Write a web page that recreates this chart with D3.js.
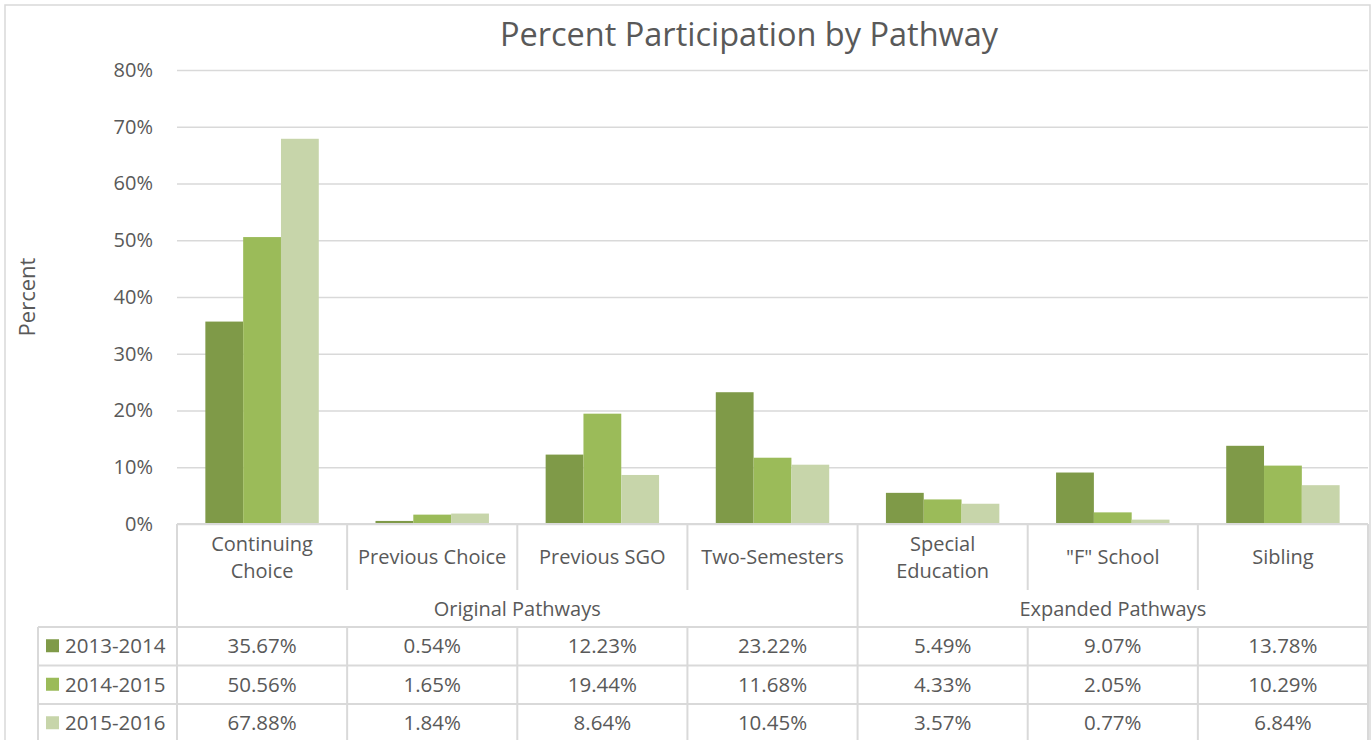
<!DOCTYPE html>
<html>
<head>
<meta charset="utf-8">
<script src="https://cdn.jsdelivr.net/npm/d3@7"></script>
<style>
  body { margin: 0; background: #fff; }
  text { font-family: "Open Sans", sans-serif; fill: #595959; }
</style>
</head>
<body>
<svg width="1372" height="740"></svg>
<script>
// chart data
var categories = ["Continuing Choice", "Previous Choice", "Previous SGO", "Two-Semesters",
                  "Special Education", "\"F\" School", "Sibling"];
var categoryLabels = [["Continuing", "Choice"], ["Previous Choice"], ["Previous SGO"], ["Two-Semesters"],
                      ["Special", "Education"], ["\"F\" School"], ["Sibling"]];
var groupNames = ["Original Pathways", "Expanded Pathways"];
var groupSizes = [4, 3];
var series = ["2013-2014", "2014-2015", "2015-2016"];
var values2013 = [35.67, 0.54, 12.23, 23.22, 5.49, 9.07, 13.78];
var values2014 = [50.56, 1.65, 19.44, 11.68, 4.33, 2.05, 10.29];
var values2015 = [67.88, 1.84, 8.64, 10.45, 3.57, 0.77, 6.84];
var yTicks = [0, 10, 20, 30, 40, 50, 60, 70, 80];
var colors = ["#7f9a48", "#9bbb59", "#c7d5aa"];

var seriesValues = [values2013, values2014, values2015];

var svg = d3.select("svg"),
    width = +svg.attr("width"),
    height = +svg.attr("height");

var plotLeft = 177, plotRight = 1368, plotTop = 70, plotBottom = 524;
var gridColor = "#d9d9d9";

// outer chart border
svg.append("rect")
    .attr("x", 5).attr("y", 5)
    .attr("width", 1365).attr("height", 800)
    .attr("fill", "none")
    .attr("stroke", gridColor)
    .attr("stroke-width", 1.5);

var x = d3.scaleBand().domain(categories).range([plotLeft, plotRight]).padding(0);
var xs = d3.scaleBand().domain(series).range([0, x.bandwidth()]).paddingInner(0).paddingOuter(0.75);
var y = d3.scaleLinear().domain([0, 80]).range([plotBottom, plotTop]);

// gridlines + tick labels
var yAxis = svg.append("g")
    .attr("transform", "translate(" + plotLeft + ",0)")
    .call(d3.axisLeft(y)
        .tickValues(yTicks)
        .tickSize(-(plotRight - plotLeft))
        .tickPadding(24)
        .tickFormat(function (d) { return d + "%"; }));
yAxis.select(".domain").remove();
yAxis.selectAll("line").attr("stroke", gridColor).attr("stroke-width", 1.5);
yAxis.selectAll("text").attr("font-size", 20).attr("fill", "#595959")
    .style("font-family", "'Open Sans', sans-serif");

// bars
var rows = series.map(function (s, i) {
    return categories.map(function (c, j) {
        return { series: s, cat: c, value: seriesValues[i][j], color: colors[i] };
    });
});

svg.append("g")
    .selectAll("g")
    .data(rows)
    .enter().append("g")
    .selectAll("rect")
    .data(function (d) { return d; })
    .enter().append("rect")
    .attr("x", function (d) { return x(d.cat) + xs(d.series); })
    .attr("y", function (d) { return y(d.value); })
    .attr("width", xs.bandwidth())
    .attr("height", function (d) { return y(0) - y(d.value); })
    .attr("fill", function (d) { return d.color; });

// title
svg.append("text")
    .attr("x", 749).attr("y", 46)
    .attr("text-anchor", "middle")
    .attr("font-size", 32.5)
    .text("Percent Participation by Pathway");

// y axis title
svg.append("text")
    .attr("transform", "translate(27,297) rotate(-90)")
    .attr("text-anchor", "middle")
    .attr("dy", "0.35em")
    .attr("font-size", 22)
    .text("Percent");

// ---- data table ----
var table = svg.append("g");
var headerBottom = 590, rowTop = 627, rowH = 38.5, tableLeft = 38;
var tableBottom = rowTop + rowH * series.length;

function line(x1, y1, x2, y2) {
    table.append("line")
        .attr("x1", x1).attr("y1", y1).attr("x2", x2).attr("y2", y2)
        .attr("stroke", gridColor).attr("stroke-width", 2);
}

// top of table (axis line)
line(plotLeft, plotBottom, plotRight, plotBottom);

// category separators in header row and data rows
var edges = categories.map(function (c) { return x(c); }).concat([plotRight]);
var groupEdges = [0];
groupSizes.reduce(function (acc, n) { groupEdges.push(acc + n); return acc + n; }, 0);

edges.forEach(function (ex, i) {
    if (groupEdges.indexOf(i) >= 0) {
        line(ex, plotBottom, ex, tableBottom + 5);
    } else {
        line(ex, plotBottom, ex, headerBottom);
        line(ex, rowTop, ex, tableBottom + 5);
    }
});

// row lines
for (var r = 0; r <= series.length; r++) {
    line(tableLeft, rowTop + r * rowH, plotRight, rowTop + r * rowH);
}
line(tableLeft, rowTop, tableLeft, tableBottom + 5);

// category labels
categories.forEach(function (c, i) {
    var lines = categoryLabels[i];
    var cy = (plotBottom + headerBottom) / 2;
    lines.forEach(function (l, k) {
        table.append("text")
            .attr("x", x(c) + x.bandwidth() / 2)
            .attr("y", cy + (k - (lines.length - 1) / 2) * 27)
            .attr("dy", "0.35em")
            .attr("text-anchor", "middle")
            .attr("font-size", 20)
            .text(l);
    });
});

// group labels
groupNames.forEach(function (g, i) {
    var x1 = edges[groupEdges[i]], x2 = edges[groupEdges[i + 1]];
    table.append("text")
        .attr("x", (x1 + x2) / 2)
        .attr("y", (headerBottom + rowTop) / 2)
        .attr("dy", "0.35em")
        .attr("text-anchor", "middle")
        .attr("font-size", 20)
        .text(g);
});

// legend keys + values
series.forEach(function (s, i) {
    var cy = rowTop + rowH * i + rowH / 2;
    table.append("rect")
        .attr("x", 46).attr("y", cy - 7)
        .attr("width", 13).attr("height", 13)
        .attr("fill", colors[i]);
    table.append("text")
        .attr("x", 65).attr("y", cy)
        .attr("dy", "0.35em")
        .attr("font-size", 20.5)
        .text(s);
    categories.forEach(function (c, j) {
        table.append("text")
            .attr("x", x(c) + x.bandwidth() / 2)
            .attr("y", cy)
            .attr("dy", "0.35em")
            .attr("text-anchor", "middle")
            .attr("font-size", 20.5)
            .text(seriesValues[i][j].toFixed(2) + "%");
    });
});
</script>
</body>
</html>
